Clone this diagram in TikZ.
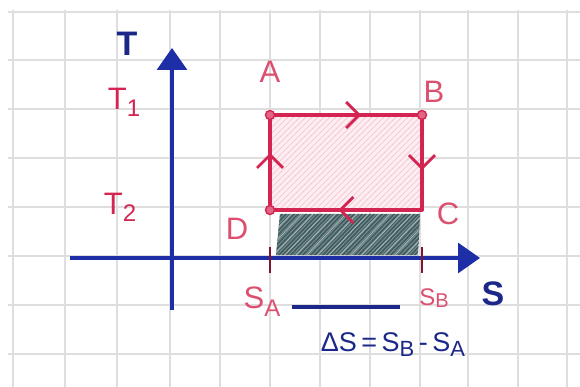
\documentclass[tikz,border=0pt]{standalone}
\usepackage{fontspec}
\setmainfont{Liberation Sans}
\usetikzlibrary{arrows.meta,decorations.markings}
\definecolor{gridc}{HTML}{DEDEDE}
\definecolor{cyc}{HTML}{D42452}
\definecolor{lab}{HTML}{DC4F6E}
\definecolor{axc}{HTML}{1E2EA6}
\definecolor{axt}{HTML}{1B2789}
\definecolor{hpink}{HTML}{F4BCCB}
\definecolor{hgray}{HTML}{3F5C5F}
\newcommand{\lowsub}[3]{\raisebox{-#1}{\fontsize{#2}{#2}\selectfont #3}}
\tikzset{
  gridline/.style={gridc, line width=1.4pt},
  axisline/.style={axc, line width=3.2pt, -{Triangle[length=22pt,width=30pt]}},
  cycline/.style={cyc, line width=3.4pt, line cap=round},
  chev/.style={postaction={decorate, decoration={markings,
     mark=at position #1 with {\arrow[cyc, line width=2.8pt]{Straight Barb[length=13pt,width=26pt]}}}}},
  corner/.style={circle, fill=cyc!70, draw=cyc, line width=1.4pt, minimum size=9pt, inner sep=0pt},
  redlab/.style={text=lab, font=\fontsize{31}{33}\selectfont, inner sep=1pt},
  bluelab/.style={text=axt, font=\fontsize{34}{36}\selectfont\bfseries, inner sep=1pt},
  tick/.style={cyc!60!black, line width=1.6pt}
}
\begin{document}
\begin{tikzpicture}[x=1pt,y=-1pt]
\useasboundingbox (0,0) rectangle (580,387);
\fill[white] (0,0) rectangle (580,387);
% grid paper
\foreach \x in {13,65,117,170,220,270,320,370,420,468,518,567}
  \draw[gridline] (\x,10) -- (\x,387);
\foreach \y in {12,60,109,158,207,256,305,354}
  \draw[gridline] (8,\y) -- (580,\y);
% cycle corners
\coordinate (A) at (270,115);
\coordinate (B) at (422,115);
\coordinate (C) at (422,210);
\coordinate (D) at (270,210);
% pink hatch inside the cycle
\begin{scope}
  \clip (272,117) rectangle (420,208);
  \fill[hpink!25] (272,117) rectangle (420,208);
  \foreach \s in {160,166,...,440}
    \draw[hpink!80, line width=1pt] (\s,215) -- ++(110,-110);
\end{scope}
% gray hatch under DC
\begin{scope}
  \clip (280,214) -- (420,214) -- (418,255) -- (276,255) -- cycle;
  \fill[hgray!70] (276,214) rectangle (420,256);
  \foreach \s in {230,234,...,430}
    \draw[hgray, line width=1.6pt] (\s,260) -- ++(48,-50);
  \foreach \s in {236,247,...,430}
    \draw[white!55!hgray, line width=0.9pt] (\s,260) -- ++(48,-50);
\end{scope}
% axes
\coordinate (Tbot) at (172,310);
\coordinate (Ttop) at (172,48);
\coordinate (Sleft) at (70,258);
\coordinate (Sright) at (480,258);
\draw[axisline] (Tbot) -- (Ttop);
\draw[axisline] (Sleft) -- (Sright);
% ticks at S_A and S_B
\coordinate (tA1) at (270,247); \coordinate (tA2) at (270,273);
\coordinate (tB1) at (422,247); \coordinate (tB2) at (422,273);
\draw[tick] (tA1) -- (tA2);
\draw[tick] (tB1) -- (tB2);
% cycle
\draw[cycline, chev=0.6] (A) -- (B);
\draw[cycline, chev=0.58] (B) -- (C);
\draw[cycline, chev=0.55] (C) -- (D);
\draw[cycline, chev=0.6] (D) -- (A);
\node[corner] (a) at (A) {};
\node[corner] (b) at (B) {};
\node[corner] (d) at (D) {};
% labels
\node[bluelab] (Tl) at (127,44) {T};
\node[redlab, text=cyc] (T1) at (124,102) {T\lowsub{7pt}{24}{1}};
\node[redlab, text=cyc] (T2) at (120,207) {T\lowsub{7pt}{24}{2}};
\node[redlab] (Al) at (270,72) {A};
\node[redlab] (Bl) at (434,92) {B};
\node[redlab] (Cl) at (448,214) {C};
\node[redlab] (Dl) at (237,229) {D};
\node[redlab] (SA) at (262,302) {S\lowsub{8pt}{24}{A}};
\node[redlab, font=\fontsize{24}{26}\selectfont] (SB) at (434,298) {S\lowsub{2pt}{20}{B}};
\node[bluelab] (Sl) at (493,294) {S};
\coordinate (L1) at (292,307);
\coordinate (L2) at (400,307);
\draw[axt, line width=3.4pt] (L1) -- (L2);
\node[text=axt, font=\fontsize{27}{29}\selectfont, inner sep=1pt] (dS) at (393,345) {ΔS\,=\,S\lowsub{5pt}{22}{B}\,-\,S\lowsub{5pt}{22}{A}};
\end{tikzpicture}
\end{document}
